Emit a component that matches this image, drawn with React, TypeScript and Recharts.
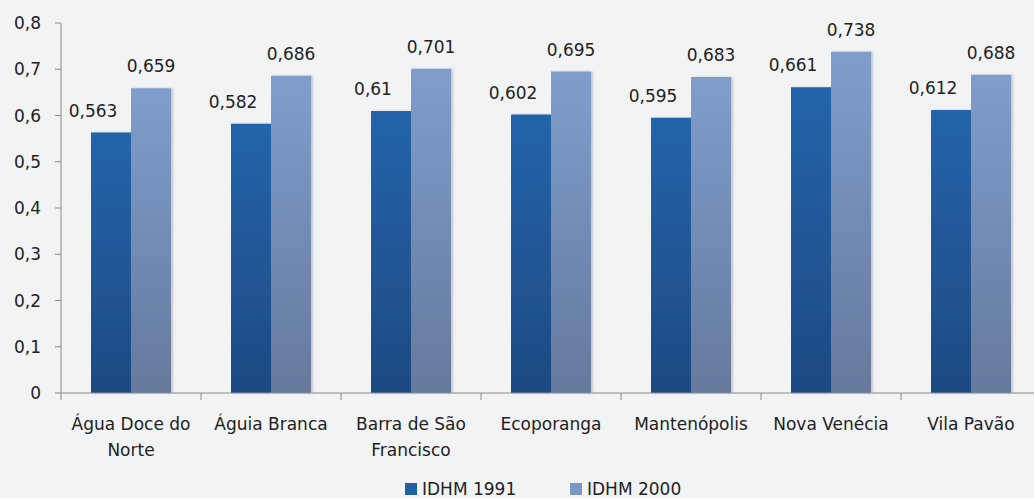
import { Bar, BarChart, LabelList, Legend, Text, XAxis, YAxis } from "recharts";

const MUNICIPIOS = [
  "Água Doce do Norte",
  "Águia Branca",
  "Barra de São Francisco",
  "Ecoporanga",
  "Mantenópolis",
  "Nova Venécia",
  "Vila Pavão",
];
const IDHM_1991 = [0.563, 0.582, 0.61, 0.602, 0.595, 0.661, 0.612];
const IDHM_2000 = [0.659, 0.686, 0.701, 0.695, 0.683, 0.738, 0.688];
const Y_TICKS = [0, 0.1, 0.2, 0.3, 0.4, 0.5, 0.6, 0.7, 0.8];

const FONT = "'DejaVu Sans', sans-serif";
const INK = "#222222";
const AXIS = "#8a8a8a";

const data = MUNICIPIOS.map((nome, i) => ({
  nome,
  v1991: IDHM_1991[i],
  v2000: IDHM_2000[i],
}));

const fmt = (v: number) => String(v).replace(".", ",");

// quebra gulosa por número de caracteres, como o Excel faz com rótulos longos
function wrap(s: string, max = 12) {
  const lines: string[] = [];
  let cur = "";
  for (const w of s.split(" ")) {
    const next = cur ? cur + " " + w : w;
    if (next.length > max && cur) {
      lines.push(cur);
      cur = w;
    } else cur = next;
  }
  if (cur) lines.push(cur);
  return lines;
}

function CategoryTick(props: any) {
  const { x, y, payload, index, visibleTicksCount } = props;
  const half = payload.offset ?? 70;
  const lines = wrap(payload.value);
  return (
    <g>
      <line x1={x - half} y1={y} x2={x - half} y2={y + 7} stroke={AXIS} />
      {index === visibleTicksCount - 1 && (
        <line x1={x + half} y1={y} x2={x + half} y2={y + 7} stroke={AXIS} />
      )}
      {lines.map((ln, i) => (
        <Text
          key={i}
          x={x}
          y={y + 25 + i * 26}
          textAnchor="middle"
          verticalAnchor="start"
          fill={INK}
          fontSize={17}
          fontFamily={FONT}
        >
          {ln}
        </Text>
      ))}
    </g>
  );
}

function valueLabel(shift: number) {
  return (props: any) => {
    const { x, y, width, value } = props;
    return (
      <text
        x={x + width / 2 + shift}
        y={y - 16}
        textAnchor="middle"
        fill={INK}
        fontSize={17}
        fontFamily={FONT}
      >
        {fmt(value)}
      </text>
    );
  };
}

function LegendBox() {
  const items = [
    { label: "IDHM 1991", color: "#2260a6" },
    { label: "IDHM 2000", color: "#7a97c6" },
  ];
  return (
    <div
      style={{
        height: 27,
        boxSizing: "border-box",
        overflow: "visible",
        display: "flex",
        alignItems: "flex-start",
        paddingLeft: 405,
        paddingTop: 8,
      }}
    >
      {items.map((it) => (
        <div
          key={it.label}
          style={{
            width: 165,
            display: "flex",
            alignItems: "center",
            gap: 5,
            fontFamily: FONT,
            fontSize: 17,
            color: INK,
            lineHeight: "20px",
          }}
        >
          <span style={{ width: 12, height: 12, background: it.color, display: "inline-block" }} />
          <span>{it.label}</span>
        </div>
      ))}
    </div>
  );
}

export default function App() {
  return (
    <div style={{ width: 1034, height: 498, overflow: "hidden", background: "#f2f3f5" }}>
      <style>{`body{margin:0}`}</style>
      <BarChart
        width={1050}
        height={498}
        data={data}
        margin={{ top: 23, right: 9, bottom: 0, left: 0 }}
        barCategoryGap={31}
        barGap={0}
      >
        <defs>
          <linearGradient id="g1991" x1="0" y1="0" x2="0" y2="1">
            <stop offset="0%" stopColor="#2464ab" />
            <stop offset="100%" stopColor="#1e4a82" />
          </linearGradient>
          <linearGradient id="g2000" x1="0" y1="0" x2="0" y2="1">
            <stop offset="0%" stopColor="#7f9ecc" />
            <stop offset="100%" stopColor="#65799d" />
          </linearGradient>
          <filter id="sombra" x="-10%" y="-10%" width="130%" height="120%">
            <feDropShadow dx="2" dy="0" stdDeviation="1.2" floodColor="#000" floodOpacity="0.18" />
          </filter>
        </defs>
        <XAxis
          dataKey="nome"
          height={78}
          axisLine={{ stroke: AXIS }}
          tickLine={false}
          tickSize={0}
          tickMargin={0}
          interval={0}
          tick={<CategoryTick />}
        />
        <YAxis
          domain={[0, 0.8]}
          ticks={Y_TICKS}
          width={61}
          tickFormatter={fmt}
          tickSize={6}
          tickMargin={14}
          axisLine={{ stroke: AXIS }}
          tickLine={{ stroke: AXIS }}
          tick={{ fill: INK, fontSize: 17, fontFamily: FONT }}
        />
        <Legend verticalAlign="bottom" content={<LegendBox />} />
        <Bar
          dataKey="v1991"
          name="IDHM 1991"
          fill="url(#g1991)"
          barSize={40}
          filter="url(#sombra)"
          isAnimationActive={false}
        >
          <LabelList dataKey="v1991" content={valueLabel(-18)} />
        </Bar>
        <Bar
          dataKey="v2000"
          name="IDHM 2000"
          fill="url(#g2000)"
          barSize={40}
          filter="url(#sombra)"
          isAnimationActive={false}
        >
          <LabelList dataKey="v2000" content={valueLabel(0)} />
        </Bar>
      </BarChart>
    </div>
  );
}
